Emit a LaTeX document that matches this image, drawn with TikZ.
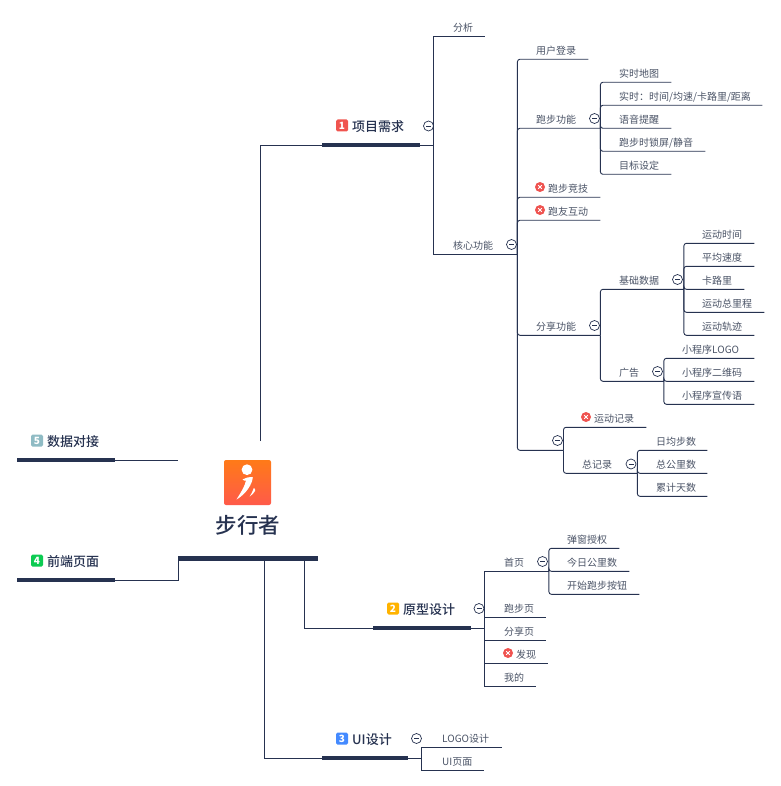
\documentclass[tikz,border=0pt]{standalone}
\usepackage{fontspec}
\setmainfont{Noto Sans CJK SC}
\newfontfamily\headfont{Noto Sans CJK SC Medium}
\definecolor{navy}{HTML}{263250}
\definecolor{inktext}{HTML}{4A5366}
\definecolor{marred}{HTML}{EF5350}
\definecolor{badgered}{HTML}{F0544F}
\definecolor{badgeamber}{HTML}{FFB300}
\definecolor{badgeblue}{HTML}{448AFF}
\definecolor{badgegreen}{HTML}{0CCB52}
\definecolor{badgeteal}{HTML}{8FBBC4}
\definecolor{logotop}{HTML}{FF7A18}
\definecolor{logofoot}{HTML}{FF5A4A}
\tikzset{
    leaf/.style = {anchor=south west, inner xsep=0pt, inner ysep=2.7pt, text height=9pt, text depth=2pt, text width=#1*1pt, font=\fontsize{10}{10}\selectfont, text=inktext},
    headline/.style = {anchor=west, inner sep=0pt, font=\fontsize{13}{13}\headfont\selectfont, text=navy},
    badge/.style = {fill=#1, rounded corners=1.5pt, minimum size=12pt, inner sep=0pt, text=white, font=\fontsize{10}{10}\selectfont\bfseries},
    bar/.style = {fill=navy, inner sep=0pt, minimum height=4pt, minimum width=#1*1pt},
    fold/.style = {circle, draw=navy, fill=white, line width=0.7pt, minimum size=10pt, inner sep=0pt, path picture={\draw[navy, line width=0.7pt] ([xshift=-2.5pt]path picture bounding box.center) -- ([xshift=2.5pt]path picture bounding box.center);}},
    cross/.style = {circle, fill=marred, minimum size=10pt, inner sep=0pt, path picture={\draw[white, line width=1pt] ([shift={(-1.8pt,-1.8pt)}]path picture bounding box.center) -- ([shift={(1.8pt,1.8pt)}]path picture bounding box.center); \draw[white, line width=1pt] ([shift={(-1.8pt,1.8pt)}]path picture bounding box.center) -- ([shift={(1.8pt,-1.8pt)}]path picture bounding box.center);}},
    twig/.style = {navy, line width=0.9pt, rounded corners=2.5pt},
    limb/.style = {navy, line width=0.9pt}
}
\begin{document}
\begin{tikzpicture}[x=1pt, y=-1pt]
    \useasboundingbox (0, 0) rectangle (780, 786);

    % root
    \node[inner sep=0pt, minimum width=47pt, minimum height=45pt, rounded corners=2pt, top color=logotop, bottom color=logofoot] (logo) at (247.5, 482.5) {};
    \fill[white] (247, 469.7) circle (5.4);
    \fill[white] (242.5, 479.5) .. controls (247, 477.5) and (250, 476.5) .. (252.8, 477) .. controls (252.5, 484) and (246, 494) .. (236.5, 499.5) .. controls (240.5, 493) and (245, 486) .. (246, 480.5) .. controls (245, 481) and (243.5, 480.5) .. (242.5, 479.5);
    \fill[white] (253.8, 488) .. controls (255.5, 489) and (255.5, 490) .. (255, 491) .. controls (254, 493) and (252, 495) .. (249.7, 496.5) .. controls (251.2, 494) and (253, 491) .. (253.8, 488);
    \node[inner sep=0pt, font=\fontsize{21.5}{21.5}\headfont\selectfont, text=navy] (walker) at (248, 525.5) {步行者};
    \node[bar=139.5, minimum height=5pt] (rootbar) at (248, 558.3) {};
    \coordinate (topend) at (260.5, 441);
    \coordinate (uifoot) at (264.5, 558);
    \coordinate (protofoot) at (304.5, 558);

    % left branches
    \node[bar=98] (databar) at (66, 460) {};
    \node[badge=badgeteal] (databadge) at (37, 440.5) {5};
    \node[headline] (datatitle) at (47, 442) {数据对接};
    \coordinate (dataend) at (178, 460);
    \draw[limb] (databar.east) -- (dataend);

    \node[bar=98] (frontbar) at (66, 580) {};
    \node[badge=badgegreen] (frontbadge) at (37, 560.5) {4};
    \node[headline] (fronttitle) at (47, 562) {前端页面};
    \draw[limb] (frontbar.east) -| (rootbar.west);

    % requirements
    \node[bar=98] (needbar) at (371, 145) {};
    \node[badge=badgered] (needbadge) at (342, 125.5) {1};
    \node[headline] (needtitle) at (352, 127) {项目需求};
    \coordinate (needjoin) at (433.5, 145);
    \draw[limb] (topend) |- (needbar.west);
    \draw[limb] (needbar.east) -- (needjoin);
    \node[fold] (needfold) at (428.5, 126) {};

    \node[leaf=32] (analysis) at (453, 36.3) {分析};
    \node[leaf=64] (core) at (453, 254.3) {核心功能};
    \draw[limb] (needjoin) |- (analysis.south east);
    \draw[limb] (needjoin) |- (core.south east);
    \node[fold] (corefold) at (511.5, 244.5) {};

    \node[leaf=52] (login) at (536, 59.3) {用户登录};
    \node[leaf=64] (running) at (536, 128.3) {跑步功能};
    \node[leaf=52] (contest) at (548, 197.3) {跑步竞技};
    \node[leaf=52] (friends) at (548, 220.3) {跑友互动};
    \node[leaf=64] (sharing) at (536, 335.3) {分享功能};
    \coordinate (recjoin) at (563.5, 450.3);
    \draw[twig] (core.south east) |- (login.south east);
    \draw[twig] (core.south east) |- (running.south east);
    \draw[twig] (core.south east) |- (contest.south east);
    \draw[twig] (core.south east) |- (friends.south east);
    \draw[twig] (core.south east) |- (sharing.south east);
    \draw[twig] (core.south east) |- (recjoin);
    \node[cross] (contestmark) at (540, 187) {};
    \node[cross] (friendsmark) at (540, 210) {};
    \node[fold] (runningfold) at (594.5, 118.5) {};
    \node[fold] (sharingfold) at (594.5, 325.5) {};
    \node[fold] (recfold) at (557.5, 440.5) {};

    \node[leaf=52] (livemap) at (619, 82.3) {实时地图};
    \node[leaf=143] (livedata) at (619, 105.3) {实时：时间/均速/卡路里/距离};
    \node[leaf=52] (voice) at (619, 128.3) {语音提醒};
    \node[leaf=86] (lockscreen) at (619, 151.3) {跑步时锁屏/静音};
    \node[leaf=52] (target) at (619, 174.3) {目标设定};
    \draw[twig] (running.south east) |- (livemap.south east);
    \draw[twig] (running.south east) |- (livedata.south east);
    \draw[twig] (running.south east) |- (voice.south east);
    \draw[twig] (running.south east) |- (lockscreen.south east);
    \draw[twig] (running.south east) |- (target.south east);

    \node[leaf=64.5] (basics) at (619, 289.3) {基础数据};
    \node[leaf=44.5] (advert) at (619, 381.3) {广告};
    \draw[twig] (sharing.south east) |- (basics.south east);
    \draw[twig] (sharing.south east) |- (advert.south east);
    \node[fold] (basicsfold) at (677.5, 279.5) {};
    \node[fold] (advertfold) at (657.5, 371.5) {};

    \node[leaf=52] (sporttime) at (702, 243.3) {运动时间};
    \node[leaf=52] (avgspeed) at (702, 266.3) {平均速度};
    \node[leaf=42] (calorie) at (702, 289.3) {卡路里};
    \node[leaf=62] (mileage) at (702, 312.3) {运动总里程};
    \node[leaf=52] (track) at (702, 335.3) {运动轨迹};
    \draw[twig] (basics.south east) |- (sporttime.south east);
    \draw[twig] (basics.south east) |- (avgspeed.south east);
    \draw[twig] (basics.south east) |- (calorie.south east);
    \draw[twig] (basics.south east) |- (mileage.south east);
    \draw[twig] (basics.south east) |- (track.south east);

    \node[leaf=72] (applogo) at (682, 358.3) {小程序LOGO};
    \node[leaf=72] (appcode) at (682, 381.3) {小程序二维码};
    \node[leaf=72] (appslogan) at (682, 404.3) {小程序宣传语};
    \draw[twig] (advert.south east) |- (applogo.south east);
    \draw[twig] (advert.south east) |- (appcode.south east);
    \draw[twig] (advert.south east) |- (appslogan.south east);

    \node[leaf=52] (sportlog) at (594, 427.3) {运动记录};
    \node[leaf=55] (totals) at (582, 473.3) {总记录};
    \draw[twig] (recjoin) |- (sportlog.south east);
    \draw[twig] (recjoin) |- (totals.south east);
    \node[cross] (sportlogmark) at (586, 417) {};
    \node[fold] (totalsfold) at (631, 464) {};

    \node[leaf=51] (dailysteps) at (656, 450.3) {日均步数};
    \node[leaf=51] (totalkm) at (656, 473.3) {总公里数};
    \node[leaf=51] (totaldays) at (656, 496.3) {累计天数};
    \draw[twig] (totals.south east) |- (dailysteps.south east);
    \draw[twig] (totals.south east) |- (totalkm.south east);
    \draw[twig] (totals.south east) |- (totaldays.south east);

    % prototype
    \node[bar=98] (protobar) at (422, 628) {};
    \node[badge=badgeamber] (protobadge) at (393, 608.5) {2};
    \node[headline] (prototitle) at (403, 610) {原型设计};
    \coordinate (protojoin) at (484.5, 628);
    \draw[limb] (protofoot) |- (protobar.west);
    \draw[limb] (protobar.east) -- (protojoin);
    \node[fold] (protofold) at (479, 608.5) {};

    \node[leaf=44.5] (homepage) at (504, 571.3) {首页};
    \node[leaf=41.5] (runpage) at (504, 617.3) {跑步页};
    \node[leaf=42] (sharepage) at (504, 640.3) {分享页};
    \node[leaf=31.7] (discover) at (516, 663.3) {发现};
    \node[leaf=31.7] (minepage) at (504, 686.3) {我的};
    \draw[limb] (protojoin) |- (homepage.south east);
    \draw[limb] (protojoin) |- (runpage.south east);
    \draw[limb] (protojoin) |- (sharepage.south east);
    \draw[limb] (protojoin) |- (discover.south east);
    \draw[limb] (protojoin) |- (minepage.south east);
    \node[cross] (discovermark) at (508, 653) {};
    \node[fold] (homefold) at (542.5, 561.5) {};

    \node[leaf=52] (popup) at (567, 548.3) {弹窗授权};
    \node[leaf=62] (todaykm) at (567, 571.3) {今日公里数};
    \node[leaf=72] (startbutton) at (567, 594.3) {开始跑步按钮};
    \draw[twig] (homepage.south east) |- (popup.south east);
    \draw[twig] (homepage.south east) |- (todaykm.south east);
    \draw[twig] (homepage.south east) |- (startbutton.south east);

    % ui design
    \node[bar=86] (uibar) at (365, 758) {};
    \node[badge=badgeblue] (uibadge) at (342, 738.5) {3};
    \node[headline] (uititle) at (352, 740) {UI设计};
    \coordinate (uijoin) at (421.5, 758);
    \draw[limb] (uifoot) |- (uibar.west);
    \draw[limb] (uibar.east) -- (uijoin);
    \node[fold] (uifold) at (416.5, 738.5) {};

    \node[leaf=60] (logodesign) at (442, 747.3) {LOGO设计};
    \node[leaf=41.7] (uipage) at (442, 770.3) {UI页面};
    \draw[limb] (uijoin) |- (logodesign.south east);
    \draw[limb] (uijoin) |- (uipage.south east);
\end{tikzpicture}
\end{document}
